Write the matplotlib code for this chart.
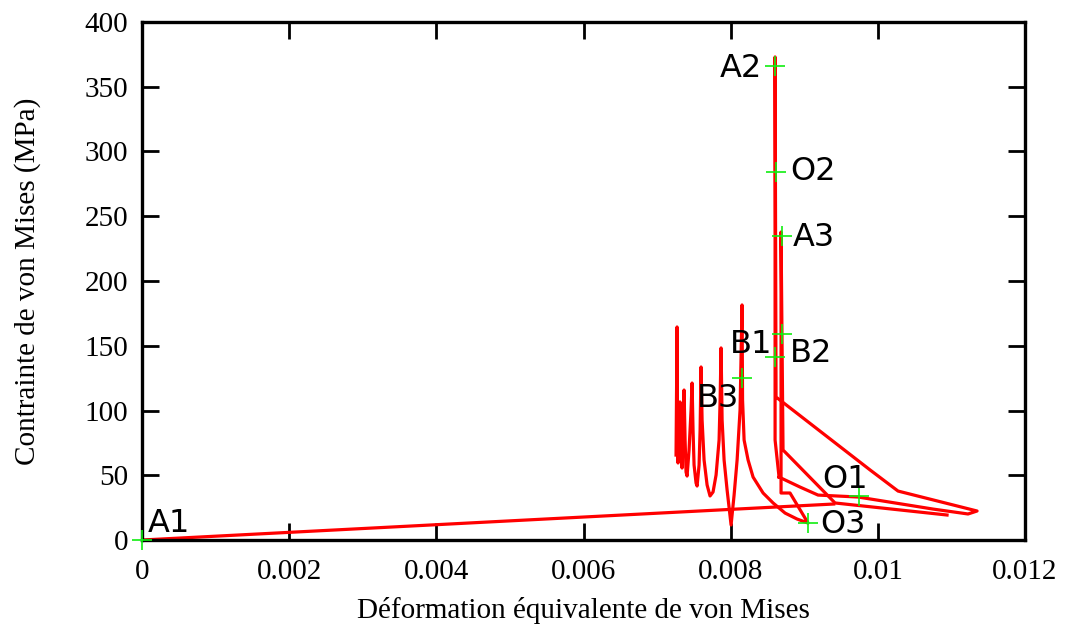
import numpy as np
import matplotlib
matplotlib.use("Agg")
import matplotlib.pyplot as plt

plt.rcParams['font.family'] = ['Liberation Serif', 'DejaVu Serif']

# chargement initial depuis A1
load_strain = [0.0, 0.00940]
load_stress = [0.0, 27.8]

# cycles (pics) -> O3 -> A3 -> retour
cyc_strain = [0.007257, 0.007271, 0.007277, 0.007284, 0.007298, 0.007311, 0.007325,
              0.007339, 0.007352, 0.007366, 0.007380, 0.007393, 0.007407, 0.007434,
              0.007461, 0.007475, 0.007488, 0.007502, 0.007529, 0.007543, 0.007570,
              0.007584, 0.007597, 0.007611, 0.007638, 0.007679, 0.007719, 0.007760,
              0.007801, 0.007842, 0.007856, 0.007869, 0.007883, 0.007910, 0.007951,
              0.008005, 0.008046, 0.008087, 0.008127, 0.008154, 0.008161, 0.008182,
              0.008236, 0.008304, 0.008440, 0.008576, 0.008739, 0.008902, 0.009051,
              0.008806, 0.008684, 0.008684, 0.008711, 0.008779, 0.009418, 0.010940]
cyc_stress = [65.6, 164.5, 77.2, 59.5, 84.9, 106.6, 77.2,
              55.6, 84.9, 115.8, 77.2, 52.5, 49.4, 69.5,
              100.4, 121.2, 84.9, 57.9, 44.0, 41.7, 57.9,
              84.9, 133.6, 92.7, 61.8, 42.5, 34.0, 37.1,
              50.2, 77.2, 108.1, 148.3, 92.7, 61.8, 38.6,
              11.6, 34.7, 61.8, 100.4, 181.5, 108.1, 77.2,
              61.8, 48.6, 36.3, 28.6, 20.8, 16.2, 13.1,
              36.3, 36.3, 237.8, 69.5, 65.6, 28.6, 19.3]

# boucle A2 / O1
loop_strain = [0.008657, 0.008603, 0.008603, 0.008616, 0.009894, 0.010274, 0.011348,
               0.011225, 0.010750, 0.009730, 0.009187, 0.008942, 0.008657]
loop_stress = [48.6, 77.2, 373.0, 110.4, 54.1, 37.8, 22.4,
               20.1, 23.9, 33.2, 34.7, 40.9, 48.6]

# points remarquables
pt_names = ['A1', 'A2', 'O2', 'A3', 'B1', 'B2', 'B3', 'O1', 'O3']
pt_strain = [0.0, 0.008603, 0.008616, 0.008698, 0.008603, 0.008698, 0.008154, 0.009744, 0.009051]
pt_stress = [0.0, 366.0, 284.2, 234.7, 141.3, 159.0, 125.1, 34.0, 13.1]

# position des etiquettes
lab_strain = [0.00008, 0.008426, 0.008806, 0.008847, 0.007991, 0.008806, 0.007543, 0.009241, 0.009214]
lab_stress = [6.2, 357.5, 278.0, 227.0, 144.4, 137.5, 102.7, 40.2, 5.4]
lab_ha = ['left', 'right', 'left', 'left', 'left', 'left', 'left', 'left', 'left']

fig = plt.figure(figsize=(10.72, 6.28), dpi=100)
ax = fig.add_axes([0.1325, 0.1401, 0.8237, 0.8249])

ax.plot(load_strain, load_stress, color='red', linewidth=2.3)
ax.plot(cyc_strain, cyc_stress, color='red', linewidth=2.3)
ax.plot(loop_strain, loop_stress, color='red', linewidth=2.3)
ax.plot(pt_strain, pt_stress, linestyle='none', marker='+', markersize=14,
        markeredgewidth=1.2, color='#11ee11', clip_on=False, zorder=3)

for name, x, y, ha in zip(pt_names, lab_strain, lab_stress, lab_ha):
    ax.text(x, y, name, ha=ha, va='baseline', fontsize=23, family='DejaVu Sans')

ax.set_xlim(0, 0.012)
ax.set_ylim(0, 400)
xt = [0, 0.002, 0.004, 0.006, 0.008, 0.01, 0.012]
ax.set_xticks(xt)
ax.set_xticklabels(['0', '0.002', '0.004', '0.006', '0.008', '0.01', '0.012'])
ax.set_yticks(np.arange(0, 401, 50))

ax.tick_params(direction='in', length=12, width=2, top=True, right=True,
               labelsize=21, pad=10)
ax.tick_params(axis='x', pad=14)
for s in ax.spines.values():
    s.set_linewidth(2.4)

ax.set_xlabel("Déformation équivalente de von Mises", fontsize=21, labelpad=8)
ax.set_ylabel("Contrainte de von Mises (MPa)", fontsize=21, labelpad=31)

fig.savefig("out.png", dpi=100)
